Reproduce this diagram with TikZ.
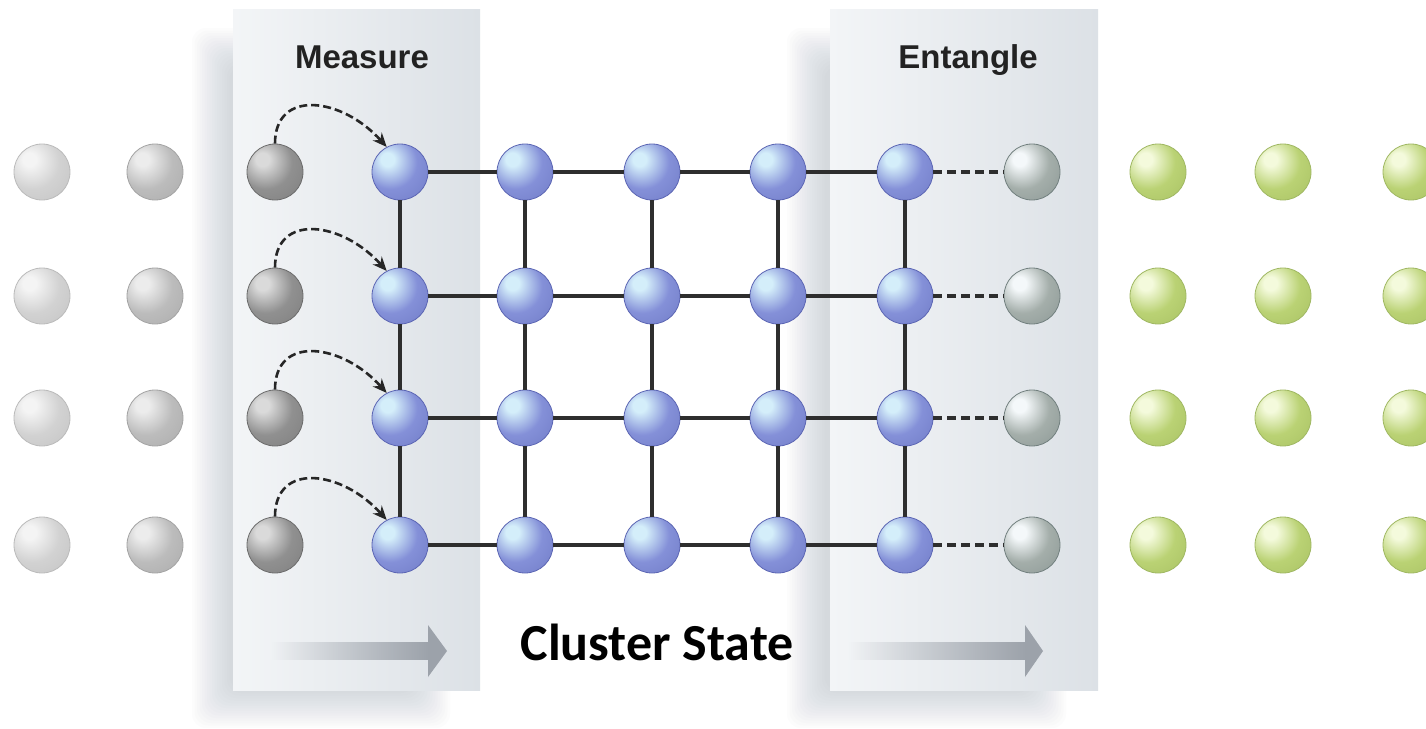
\documentclass[tikz,border=0pt]{standalone}
\usepackage{fontspec}
\newfontfamily\hvfont{Liberation Sans}
\newfontfamily\calfont{Carlito}
\usetikzlibrary{arrows.meta,fadings}
\definecolor{lghi}{HTML}{F4F4F4}\definecolor{lgmid}{HTML}{D2D2D2}\definecolor{lgedge}{HTML}{B4B4B4}
\definecolor{mghi}{HTML}{ECECEC}\definecolor{mgmid}{HTML}{BCBCBC}\definecolor{mgedge}{HTML}{9A9A9A}
\definecolor{dghi}{HTML}{DADADA}\definecolor{dgmid}{HTML}{909090}\definecolor{dgedge}{HTML}{6C6C6C}
\definecolor{blhi}{HTML}{D4EEFA}\definecolor{blmid}{HTML}{8490D8}\definecolor{bledge}{HTML}{5C66B4}
\definecolor{enhi}{HTML}{F4F8FA}\definecolor{enmid}{HTML}{A4AEAA}\definecolor{enedge}{HTML}{72807F}
\definecolor{grhi}{HTML}{F4FADC}\definecolor{grmid}{HTML}{BAD274}\definecolor{gredge}{HTML}{96B052}
\definecolor{panelL}{HTML}{F3F5F7}\definecolor{panelR}{HTML}{DCE1E6}
\definecolor{shadowc}{HTML}{8C98A4}
\definecolor{arrowc}{HTML}{9CA2AA}
\definecolor{linec}{HTML}{2E2E2E}
\definecolor{textc}{HTML}{222222}
\newcommand\mkball[4]{\pgfdeclareradialshading{#1}{\pgfpoint{-12bp}{12bp}}{%
 color(0bp)=(#2); color(6bp)=(#2); color(24bp)=(#3); color(44bp)=(#3!55!#4); color(60bp)=(#4); color(90bp)=(#4)}}
\mkball{lgball}{lghi}{lgmid}{lgedge}
\mkball{mgball}{mghi}{mgmid}{mgedge}
\mkball{dgball}{dghi}{dgmid}{dgedge}
\mkball{blball}{blhi}{blmid}{bledge}
\mkball{enball}{enhi}{enmid}{enedge}
\mkball{grball}{grhi}{grmid}{gredge}
\tikzfading[name=fadeinright, left color=transparent!100, right color=transparent!0]
\tikzset{
 sphere/.style={circle, minimum size=56pt, inner sep=0pt, line width=0.8pt},
 lg/.style={sphere, shading=lgball, draw=lgedge!90!white},
 mg/.style={sphere, shading=mgball, draw=mgedge!90!white},
 dg/.style={sphere, shading=dgball, draw=dgedge},
 bl/.style={sphere, shading=blball, draw=bledge},
 en/.style={sphere, shading=enball, draw=enedge},
 gr/.style={sphere, shading=grball, draw=gredge!90!white},
 gridline/.style={draw=linec, line width=3.5pt},
 entdash/.style={draw=linec, line width=4pt, dash pattern=on 9pt off 5pt},
 measarrow/.style={draw=black!85, line width=2.6pt, dash pattern=on 8pt off 4pt, -{Stealth[length=14pt,width=12pt]}},
 paneltitle/.style={anchor=base, text=textc, font=\hvfont\bfseries\fontsize{33}{38}\selectfont, inner sep=0pt},
 flowbody/.style={fill=arrowc, path fading=fadeinright},
 flowhead/.style={fill=arrowc},
 shadowlayer/.style={fill=shadowc, opacity=0.024, rounded corners=14pt}
}
\begin{document}
\begin{tikzpicture}[x=1pt,y=-1pt]
\useasboundingbox (0,0) rectangle (1426,728);
\fill[white] (0,0) rectangle (1426,728);
% shadows
\foreach \k in {0,...,15}{
 \fill[shadowlayer] (192+\k*2.5,28+\k*2.5) rectangle (450-\k*2.5,728-\k*2.5);
 \fill[shadowlayer] (787+\k*2.5,28+\k*2.5) rectangle (1066-\k*2.5,728-\k*2.5);
}
% panels
\fill[left color=panelL, right color=panelR] (233,9) rectangle (480,690);
\fill[left color=panelL, right color=panelR] (830,9) rectangle (1098,690);
% flow arrows
\fill[flowbody] (272,642) rectangle (430,660);
\fill[flowhead] (428,625) -- (447,651) -- (428,677) -- cycle;
\fill[flowbody] (848,642) rectangle (1027,660);
\fill[flowhead] (1025,625) -- (1043,651) -- (1025,677) -- cycle;
% titles
\node[paneltitle] (tmeas) at (362,68) {Measure};
\node[paneltitle] (tent) at (968,68) {Entangle};
\node[anchor=base, inner sep=0pt, font=\calfont\bfseries\fontsize{52}{60}\selectfont] (tcs) at (657,660) {Cluster State};
% spheres
\foreach \r/\y in {1/172,2/296,3/418,4/545}{
 \node[lg] (la\r) at (42,\y) {};
 \node[mg] (lb\r) at (155,\y) {};
 \node[dg] (m\r) at (275,\y) {};
 \node[bl] (b1r\r) at (400,\y) {};
 \node[bl] (b2r\r) at (525,\y) {};
 \node[bl] (b3r\r) at (652,\y) {};
 \node[bl] (b4r\r) at (778,\y) {};
 \node[bl] (b5r\r) at (905,\y) {};
 \node[en] (e\r) at (1032,\y) {};
 \node[gr] (ga\r) at (1158,\y) {};
 \node[gr] (gb\r) at (1283,\y) {};
 \node[gr] (gc\r) at (1411,\y) {};
}
% grid lines
\foreach \r in {1,...,4}{
 \foreach \c [evaluate=\c as \n using int(\c+1)] in {1,...,4}{
  \draw[gridline] (b\c r\r) -- (b\n r\r);
 }
 \draw[entdash] (b5r\r) -- (e\r);
 \draw[measarrow] (m\r.north) .. controls +(0,-55) and +(-45,-50) .. (b1r\r.118);
}
\foreach \c in {1,...,5}{
 \foreach \r [evaluate=\r as \n using int(\r+1)] in {1,...,3}{
  \draw[gridline] (b\c r\r) -- (b\c r\n);
 }
}
\end{tikzpicture}
\end{document}
